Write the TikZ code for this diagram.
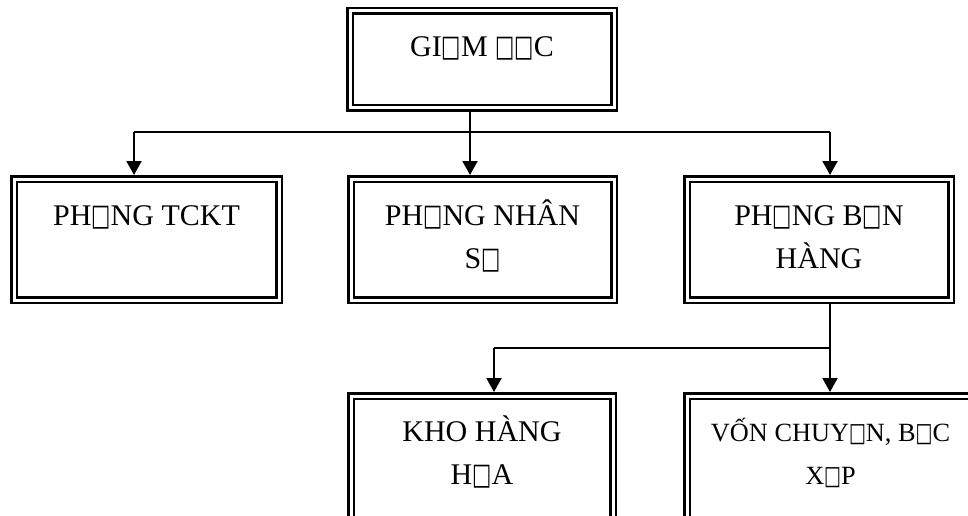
\documentclass[tikz,border=0pt]{standalone}
\usepackage{graphicx}
\usepackage{fontspec}
\setmainfont{Liberation Serif}
\newfontfamily\symfont{DejaVu Sans}
\usetikzlibrary{arrows.meta}
\newcommand\miss{{\symfont\scalebox{0.68}[1]{□}}}
\tikzset{
  box/.style={draw, line width=2.5pt, double, double distance=3pt, inner sep=0pt, outer sep=0pt, anchor=north west},
  txt/.style={font=\fontsize{30}{36}\selectfont, inner sep=0pt, anchor=base},
  smalltxt/.style={txt, font=\fontsize{26.3}{32}\selectfont},
  conn/.style={line width=2pt},
  arr/.style={conn, -{Triangle[width=15pt,length=14pt]}}
}
\begin{document}
\begin{tikzpicture}[x=1pt,y=1pt]
\useasboundingbox (0,0) rectangle (968,-516);
\clip (0,0) rectangle (968,-516);
% boxes
\node[box, minimum width=264pt, minimum height=97pt]  (b0) at (350,-11) {};
\node[box, minimum width=265pt, minimum height=121pt] (b1) at (14,-179) {};
\node[box, minimum width=263pt, minimum height=121pt] (b2) at (351,-179) {};
\node[box, minimum width=264pt, minimum height=121pt] (b3) at (687,-179) {};
\node[box, minimum width=262pt, minimum height=160pt] (b4) at (351,-396) {};
\node[box, minimum width=290pt, minimum height=160pt] (b5) at (687,-396) {};
% texts
\node[txt] (t0)  at (482,-57)   {GI\miss M \miss\miss C};
\node[txt] (t1)  at (146.5,-225) {PH\miss NG TCKT};
\node[txt] (t2a) at (482.5,-225) {PH\miss NG NHÂN};
\node[txt] (t2b) at (482.5,-268) {S\miss};
\node[txt] (t3a) at (819,-225)  {PH\miss NG B\miss N};
\node[txt] (t3b) at (819,-268)  {HÀNG};
\node[txt] (t4a) at (482,-441)  {KHO HÀNG};
\node[txt] (t4b) at (482,-484)  {H\miss A};
\node[smalltxt] (t5a) at (830.5,-441)  {VỐN CHUY\miss N, B\miss C};
\node[smalltxt] (t5b) at (830.5,-484)  {X\miss P};
% junctions
\coordinate (j0) at (470,-132);
\coordinate (jL) at (134,-132);
\coordinate (jR) at (830,-132);
\coordinate (k0) at (830,-348);
\coordinate (kL) at (494,-348);
% connectors
\draw[conn] ([yshift=-4pt]b0.south -| j0) -- (j0);
\draw[conn] (jL) -- (jR);
\draw[arr] (jL) -- ([yshift=4pt]b1.north -| jL);
\draw[arr] (j0) -- ([yshift=4pt]b2.north -| j0);
\draw[arr] (jR) -- ([yshift=4pt]b3.north -| jR);
\draw[conn] ([yshift=-4pt]b3.south -| k0) -- (k0);
\draw[conn] (k0) -- (kL);
\draw[arr] (k0) -- ([yshift=4pt]b5.north -| k0);
\draw[arr] (kL) -- ([yshift=4pt]b4.north -| kL);
\end{tikzpicture}
\end{document}
